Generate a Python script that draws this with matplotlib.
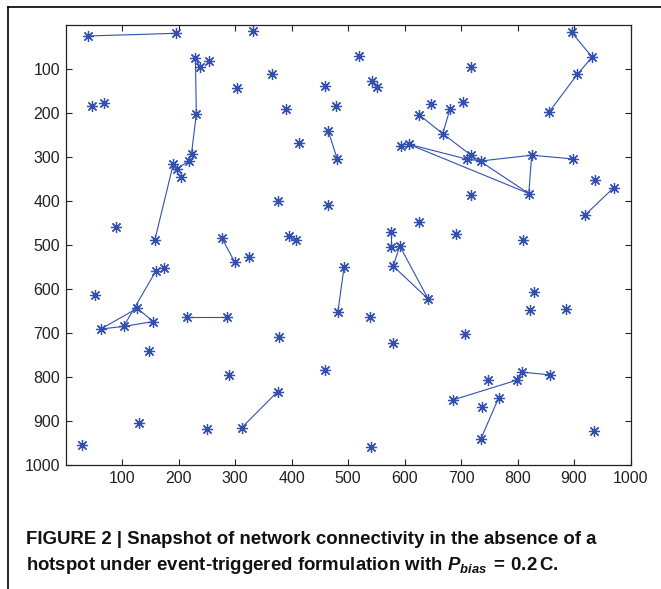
import matplotlib
matplotlib.use("Agg")
import matplotlib.pyplot as plt
from matplotlib.lines import Line2D

# node positions
node_x = [40, 195, 332, 230, 238.6, 254, 366, 303.5, 459, 47.5,
          68, 391, 479, 231.5, 465, 481, 413, 223, 218.6, 190.8,
          196.8, 204.4, 375.5, 465, 89, 158, 277, 395, 407.5, 299.5,
          325, 519.5, 717.7, 543, 552, 647.5, 680.5, 703, 625.7, 667.6,
          593, 607.4, 717.7, 710.6, 735.4, 825, 899, 820, 718, 938,
          970, 919.5, 855.8, 896, 932, 906, 626, 690.6, 809, 576,
          576, 591.5, 580, 642, 493, 482, 539.5, 579, 829, 822.7,
          885, 707, 460, 686, 747, 799, 808, 857, 766.7, 737,
          735.4, 935, 540, 52, 160, 175, 127, 155.4, 62.3, 103,
          148, 215.6, 286, 377, 289, 375.5, 312, 251, 129.5, 29]
node_y = [25, 19, 14, 76, 96, 82, 111, 144, 139, 184,
          177, 190, 184, 203, 241, 305, 269, 292.5, 308, 316,
          328, 346, 400, 409, 459, 489, 485, 479, 489, 539,
          527, 70, 95, 127, 142, 180, 191, 176, 204, 247,
          276, 271, 296, 305, 309, 296, 304.5, 383, 386, 352,
          370, 432, 198, 17, 73, 112, 448, 475, 489, 470,
          505, 502, 548, 623, 551, 652, 663.6, 723, 607.5, 648,
          646, 702, 783, 852, 807, 807, 789, 795, 847, 869,
          940, 923, 959, 614, 559, 553, 644, 674, 691, 685,
          741, 663.6, 663.6, 710, 795, 833, 915, 918, 905, 955]

# links between nodes (index pairs)
edge_from = [0, 3, 3, 13, 17, 18, 19, 14, 26, 38, 39, 42, 36, 41, 43, 41, 44, 45, 45,
             50, 53, 54, 55, 59, 61, 61, 62, 64, 73, 75, 76, 78, 88, 86, 88, 89, 89,
             91, 95]
edge_to = [1, 4, 13, 17, 18, 20, 25, 15, 29, 39, 42, 47, 39, 43, 44, 47, 45, 46, 47,
           51, 54, 55, 52, 60, 62, 63, 63, 65, 75, 76, 77, 80, 86, 87, 89, 87, 84,
           92, 96]

caption1 = "FIGURE 2 | Snapshot of network connectivity in the absence of a"
caption2 = r"hotspot under event-triggered formulation with $\mathbfit{P}_{\mathbfit{bias}}\mathbf{\,=\,0.2\,C}$."

plt.rcParams['font.family'] = ['Liberation Sans', 'DejaVu Sans']
plt.rcParams['mathtext.fontset'] = 'custom'
plt.rcParams['mathtext.bf'] = 'Liberation Sans:bold'
plt.rcParams['mathtext.bfit'] = 'Liberation Sans:bold:italic'
plt.rcParams['mathtext.rm'] = 'Liberation Sans:bold'

blue = '#3350b0'

fig = plt.figure(figsize=(6.61, 5.89), dpi=100)
ax = fig.add_axes([0.0991, 0.2105, 0.8548, 0.7471])

for a, b in zip(edge_from, edge_to):
    ax.plot([node_x[a], node_x[b]], [node_y[a], node_y[b]], color=blue, lw=0.8)
ax.plot(node_x, node_y, ls='none', marker=(8, 2, 0), ms=8, mew=0.9,
        color=blue)

ax.set_xlim(0, 1000)
ax.set_ylim(1000, 0)
ax.set_xticks(range(100, 1001, 100))
ax.set_yticks(range(100, 1001, 100))
ax.tick_params(direction='in', length=4, width=0.8, top=True, right=True,
               labelsize=11.5, colors='#222222', pad=4)
for s in ax.spines.values():
    s.set_linewidth(0.9)
    s.set_color('#222222')

# page frame: top and left rules
fig.add_artist(Line2D([8 / 661, 1], [1 - 7 / 589, 1 - 7 / 589], color='black', lw=1.2))
fig.add_artist(Line2D([8 / 661, 8 / 661], [0, 1 - 7 / 589], color='black', lw=1.2))

fig.text(26 / 661, 1 - 540 / 589, caption1, fontsize=13.4, fontweight='bold',
         va='center', color='#111111')
fig.text(26 / 661, 1 - 566 / 589, caption2, fontsize=13.4, fontweight='bold',
         va='center', color='#111111')

fig.savefig('out.png', dpi=100)
